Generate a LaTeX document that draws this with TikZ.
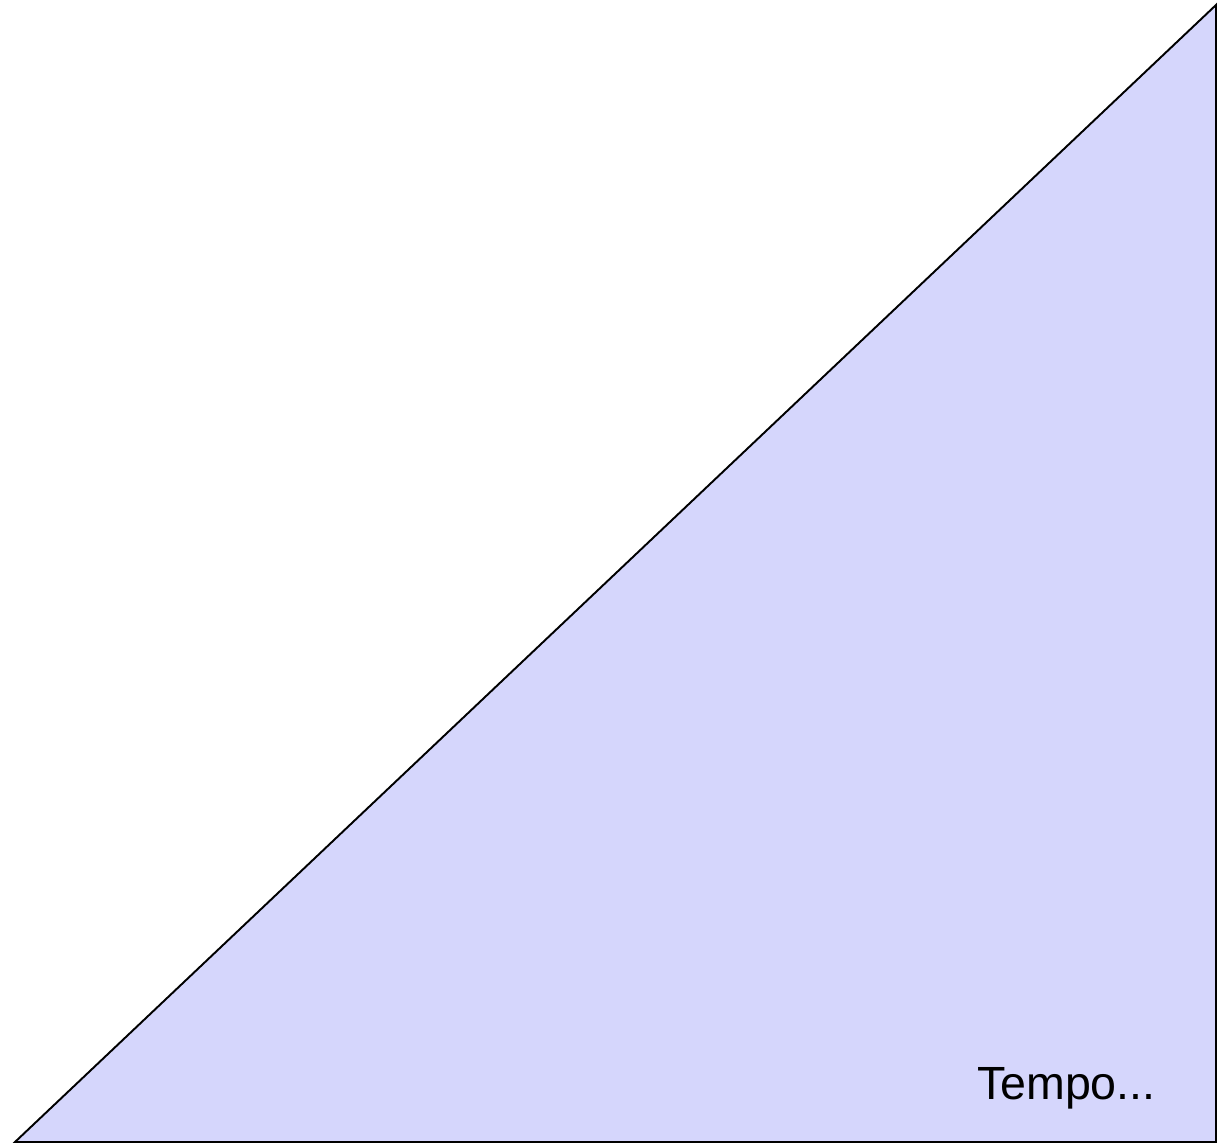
\documentclass[tikz,border=0pt]{standalone}
\usepackage{fontspec}
\setmainfont{Liberation Sans}
\usetikzlibrary{positioning}
\definecolor{TriFill}{RGB}{213,214,252}
\definecolor{TriLine}{RGB}{0,0,0}
\tikzset{
  tri/area/.style={
    draw=TriLine,
    line width=1.1pt,
    line join=miter,
    fill=TriFill
  },
  tri/label/.style={
    font=\fontsize{26.5}{31}\selectfont,
    text=black,
    inner sep=0pt
  }
}

\begin{document}
\begin{tikzpicture}[x=0.02cm,y=0.02cm]
  \useasboundingbox (0,0) rectangle (1224,1143);
  \coordinate (low) at (15,1);
  \coordinate (top) at (1216,1138);
  \coordinate (corner) at (1216,1);
  \draw[tri/area] (low) -- (top) -- (corner) -- cycle;
  \node[tri/label,anchor=base east] (tempo) at (1156,44) {Tempo...};
\end{tikzpicture}
\end{document}
